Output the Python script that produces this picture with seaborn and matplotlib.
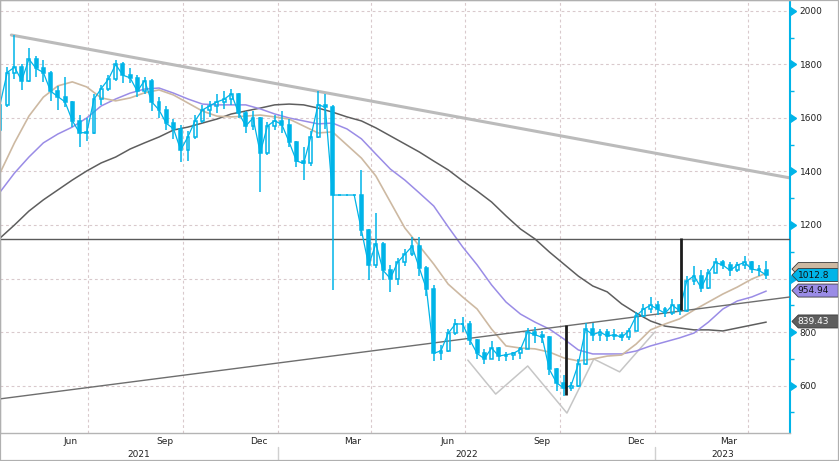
import numpy as np
import pandas as pd
import matplotlib
matplotlib.use("Agg")
import matplotlib.pyplot as plt
import matplotlib.dates as mdates
import matplotlib.transforms as mtransforms
from matplotlib.patches import Rectangle, Polygon
from matplotlib.ticker import FixedLocator, FixedFormatter, NullFormatter, MultipleLocator
import seaborn as sns

# ---------------- data (weekly OHLC) ----------------
week_start = "2021-04-07"
opens = [1555, 1650, 1770, 1790, 1740, 1820, 1785, 1770, 1700, 1680,
         1660, 1590, 1545, 1545, 1670, 1710, 1745, 1800, 1760, 1750,
         1700, 1740, 1660, 1630, 1580, 1560, 1480, 1530, 1590, 1630,
         1645, 1660, 1670, 1690, 1620, 1570, 1600, 1470, 1570, 1590,
         1575, 1510, 1440, 1430, 1530, 1650, 1640, 1312, 1312, 1312,
         1312, 1180, 1050, 1130, 1030, 1000, 1060, 1090, 1120, 1040,
         960, 720, 730, 795, 830, 830, 770, 720, 700, 740,
         710, 715, 720, 735, 800, 790, 780, 660, 610, 590,
         600, 680, 810, 790, 800, 785, 790, 780, 805, 860,
         885, 900, 885, 870, 900, 880, 990, 1010, 965, 1020,
         1060, 1050, 1030, 1050, 1060, 1035, 1030]
highs = [1670, 1790, 1910, 1800, 1860, 1830, 1815, 1775, 1720, 1755,
         1665, 1610, 1600, 1690, 1725, 1760, 1815, 1810, 1785, 1760,
         1755, 1745, 1680, 1645, 1595, 1575, 1550, 1610, 1650, 1665,
         1690, 1700, 1710, 1695, 1625, 1625, 1605, 1585, 1610, 1625,
         1595, 1515, 1490, 1550, 1700, 1690, 1650, 1312, 1312, 1312,
         1406, 1185, 1245, 1135, 1050, 1075, 1110, 1155, 1155, 1045,
         975, 750, 810, 850, 855, 840, 775, 735, 765, 745,
         725, 725, 745, 815, 820, 805, 785, 665, 640, 615,
         700, 835, 835, 810, 810, 810, 800, 815, 875, 905,
         930, 915, 895, 925, 905, 1010, 1045, 1030, 1035, 1075,
         1070, 1060, 1060, 1085, 1065, 1050, 1065]
lows = [1530, 1640, 1745, 1705, 1735, 1755, 1735, 1665, 1630, 1640,
        1565, 1490, 1515, 1540, 1650, 1700, 1740, 1730, 1730, 1680,
        1690, 1625, 1600, 1555, 1520, 1435, 1440, 1520, 1580, 1605,
        1620, 1635, 1650, 1600, 1545, 1555, 1325, 1460, 1555, 1545,
        1490, 1415, 1370, 1420, 1525, 1560, 957, 1312, 1312, 1312,
        1160, 995, 1040, 995, 950, 975, 1045, 1085, 1010, 935,
        690, 695, 725, 790, 800, 750, 700, 680, 700, 690,
        690, 695, 700, 735, 760, 760, 640, 580, 560, 580,
        595, 675, 765, 765, 765, 770, 768, 770, 805, 855,
        870, 865, 855, 865, 865, 875, 975, 950, 960, 1020,
        1035, 1010, 1025, 1035, 1020, 1010, 1000]
closes = [1650, 1770, 1790, 1740, 1820, 1785, 1770, 1700, 1680, 1660,
          1590, 1545, 1545, 1670, 1710, 1745, 1800, 1760, 1750, 1700,
          1740, 1660, 1630, 1580, 1560, 1480, 1530, 1590, 1630, 1645,
          1660, 1670, 1690, 1620, 1570, 1600, 1470, 1570, 1590, 1575,
          1510, 1440, 1430, 1530, 1650, 1640, 1312, 1312, 1312, 1312,
          1180, 1050, 1130, 1030, 1000, 1060, 1090, 1120, 1040, 960,
          720, 730, 795, 830, 830, 770, 720, 700, 740, 710,
          715, 720, 735, 800, 790, 780, 660, 610, 590, 600,
          680, 810, 790, 800, 785, 790, 780, 805, 860, 885,
          900, 885, 870, 900, 880, 990, 1010, 965, 1020, 1060,
          1050, 1030, 1050, 1060, 1035, 1030, 1012.8]

# moving averages, sampled every two weeks
ma_start = "2021-04-07"
ma_fast = [1394, 1507, 1607, 1678, 1720, 1735, 1716, 1675, 1664, 1675,
           1694, 1705, 1686, 1656, 1626, 1607, 1604, 1607, 1611, 1604,
           1596, 1570, 1544, 1548, 1499, 1450, 1383, 1286, 1189, 1122,
           1054, 979, 931, 886, 811, 748, 740, 737, 725, 703,
           692, 699, 710, 714, 755, 808, 830, 849, 882, 912,
           942, 968, 998, 1020]
ma_mid = [1323, 1394, 1454, 1507, 1540, 1566, 1600, 1645, 1671, 1693,
          1708, 1712, 1693, 1671, 1652, 1649, 1649, 1649, 1634, 1615,
          1600, 1589, 1578, 1581, 1559, 1522, 1465, 1409, 1368, 1320,
          1271, 1193, 1118, 1051, 976, 912, 867, 837, 811, 774,
          733, 718, 718, 718, 729, 748, 763, 778, 796, 837,
          886, 916, 931, 953]
ma_slow = [1151, 1200, 1252, 1294, 1331, 1368, 1402, 1432, 1454, 1484,
           1507, 1529, 1555, 1566, 1581, 1596, 1615, 1626, 1637, 1649,
           1652, 1649, 1637, 1622, 1604, 1589, 1563, 1533, 1503, 1473,
           1439, 1406, 1365, 1327, 1286, 1234, 1185, 1148, 1099, 1054,
           1009, 972, 950, 905, 871, 841, 822, 815, 808, 808,
           804, 815, 826, 837]

# drawn lines
down_trend_dates = ["2021-04-18", "2023-05-12"]
down_trend_vals = [1910, 1376]
up_trend_dates = ["2021-04-07", "2023-05-12"]
up_trend_vals = [550, 931]
level_val = 1146
zig_dates = ["2022-07-04", "2022-07-31", "2022-08-31", "2022-10-08",
             "2022-11-03", "2022-11-28", "2023-01-01"]
zig_vals = [695, 568, 673, 497, 699, 651, 800]
spike_dates = ["2022-10-07", "2023-01-26"]
spike_lows = [565, 882]
spike_highs = [826, 1150]

# last-value tags (the fast-average tag sits mostly hidden behind the price tag)
fast_tag_val = 1012.8
tag_labels = ["839.43", "954.94", "1012.8"]
tag_vals = [839.43, 954.94, 1012.8]

yticks_major = [600, 800, 1000, 1200, 1400, 1600, 1800, 2000]
ytick_labels = ["600", "800", "", "1200", "1400", "1600", "1800", "2000"]
month_label_months = [3, 6, 9, 12]
years = [2021, 2022, 2023]

# ---------------- style ----------------
CYAN = "#00B4E8"
TAN = "#CDB9A2"
PURPLE = "#9A8CE6"
DARK = "#5E5E5E"
TREND = "#BBBBBB"
ZIG = "#C6C6C6"
GRID = "#D9C9CC"
AXISGRAY = "#B4B4B4"

sns.set_theme(style="white")
plt.rcParams["font.family"] = ["DejaVu Sans"]

fig = plt.figure(figsize=(8.39, 4.61), dpi=100)
ax = fig.add_axes([0.0, 28 / 461, 790 / 839, 433 / 461])
ax.set_facecolor("white")

x0 = pd.Timestamp("2021-04-07")
x1 = pd.Timestamp("2023-05-12")
ax.set_xlim(mdates.date2num(x0), mdates.date2num(x1))
ax.set_ylim(422.5, 2041)
px = (2041 - 422.5) / 433  # data units per pixel

# grid
for q in pd.date_range("2021-04-01", "2023-05-01", freq="QS"):
    ax.axvline(mdates.date2num(q), color=GRID, lw=0.8, ls=(0, (2.5, 2.5)), zorder=0)
for v in yticks_major:
    ax.axhline(v, color=GRID, lw=0.8, ls=(0, (2.5, 2.5)), zorder=0)

# moving averages via seaborn
ma_dates = pd.date_range(ma_start, periods=len(ma_fast), freq="14D")
ma_df = pd.DataFrame({"date": ma_dates, "fast": ma_fast, "mid": ma_mid, "slow": ma_slow})
sns.lineplot(data=ma_df, x="date", y="slow", ax=ax, color=DARK, lw=1.1, zorder=3)
sns.lineplot(data=ma_df, x="date", y="mid", ax=ax, color=PURPLE, lw=1.1, zorder=3)
sns.lineplot(data=ma_df, x="date", y="fast", ax=ax, color=TAN, lw=1.2, zorder=3)

# drawn lines
ax.plot(pd.to_datetime(down_trend_dates), down_trend_vals, color=TREND, lw=2.2, zorder=2)
ax.plot(pd.to_datetime(up_trend_dates), up_trend_vals, color="#6E6E6E", lw=1.0, zorder=4)
ax.axhline(level_val, color="#5A5A5A", lw=1.0, zorder=4)
ax.plot(pd.to_datetime(zig_dates), zig_vals, color=ZIG, lw=1.1, zorder=2)

# price candles
weeks = pd.date_range(week_start, periods=len(closes), freq="7D")
xs = mdates.date2num(weeks)
bw = 2.8
ax.plot(weeks, closes, color=CYAN, lw=0.9, zorder=5)
for x, o, h, l, c in zip(xs, opens, highs, lows, closes):
    lo, hi = min(o, c), max(o, c)
    ax.vlines(x, hi, h, color=CYAN, lw=1.1, zorder=5)
    ax.vlines(x, l, lo, color=CYAN, lw=1.1, zorder=5)
    up = c >= o
    ax.add_patch(Rectangle((x - bw / 2, lo), bw, max(hi - lo, 1.0),
                           facecolor="none" if up else CYAN,
                           edgecolor=CYAN, lw=1.1, zorder=6))

ax.vlines(pd.to_datetime(spike_dates), spike_lows, spike_highs, color="#1C1C1C", lw=2.0, zorder=7)

# ---------------- axes styling ----------------
ax.set_xlabel("")
ax.set_ylabel("")
for side in ["left", "top", "bottom"]:
    ax.spines[side].set_color(AXISGRAY)
    ax.spines[side].set_linewidth(1.0)
ax.spines["right"].set_color(CYAN)
ax.spines["right"].set_linewidth(1.5)

# x axis: month ticks, quarterly month labels, year labels
ax.xaxis.set_major_locator(mdates.MonthLocator(bymonthday=1))
ax.xaxis.set_major_formatter(NullFormatter())
ax.xaxis.set_minor_locator(mdates.MonthLocator(bymonth=month_label_months, bymonthday=14))
ax.xaxis.set_minor_formatter(mdates.DateFormatter("%b"))
ax.tick_params(axis="x", which="major", length=3, width=0.8, color=AXISGRAY, direction="out")
ax.tick_params(axis="x", which="minor", length=0, pad=3, labelsize=6.5, labelcolor="#222222")

blend = mtransforms.blended_transform_factory(ax.transData, ax.transAxes)
bounds = [x0, pd.Timestamp("2022-01-01"), pd.Timestamp("2023-01-01"), x1]
for i, yr in enumerate(years):
    mid = mdates.date2num(bounds[i]) + (mdates.date2num(bounds[i + 1]) - mdates.date2num(bounds[i])) / 2
    ax.text(mid, -0.049, str(yr), transform=blend, ha="center", va="center",
            fontsize=6.5, color="#222222", clip_on=False)
for b in bounds[1:3]:
    ax.plot([mdates.date2num(b)] * 2, [-0.032, -0.07], transform=blend,
            color="#D0D0D0", lw=1.0, clip_on=False)

# y axis on the right with arrow markers
ax.yaxis.tick_right()
ax.yaxis.set_major_locator(FixedLocator(yticks_major))
ax.yaxis.set_major_formatter(FixedFormatter(ytick_labels))
ax.yaxis.set_minor_locator(MultipleLocator(100))
ax.tick_params(axis="y", which="major", length=0, pad=7, labelsize=6.5, labelcolor="#222222")
ax.tick_params(axis="y", which="minor", length=3, width=1.0, color=CYAN, direction="out")
yblend = mtransforms.blended_transform_factory(ax.transAxes, ax.transData)
ax.plot([1.0] * len(yticks_major), yticks_major, ls="none", marker=9, markersize=6,
        color=CYAN, transform=yblend, clip_on=False, zorder=8)

# last-value tags
half = 6.5 * px


def tag_shape(yc, fc):
    return Polygon([(1.0025, yc), (1.0105, yc + half), (1.061, yc + half),
                    (1.061, yc - half), (1.0105, yc - half)], closed=True,
                   facecolor=fc, edgecolor="#3A3A3A", lw=0.6,
                   transform=yblend, clip_on=False, zorder=20)


ax.add_patch(tag_shape(fast_tag_val + 6 * px, TAN))
tag_colors = [DARK, PURPLE, CYAN]
tag_text_colors = ["white", "#111111", "#111111"]
for lab, yc, fc, tc in zip(tag_labels, tag_vals, tag_colors, tag_text_colors):
    ax.add_patch(tag_shape(yc, fc))
    ax.text(1.0095, yc, lab, transform=yblend, ha="left", va="center",
            fontsize=6.5, color=tc, clip_on=False, zorder=21)

# outer frame
fig.patches.append(Rectangle((0, 0), 1, 1, transform=fig.transFigure, fill=False,
                             edgecolor="#B0B0B0", lw=1.6))

fig.savefig("out.png", dpi=100, facecolor="white")
